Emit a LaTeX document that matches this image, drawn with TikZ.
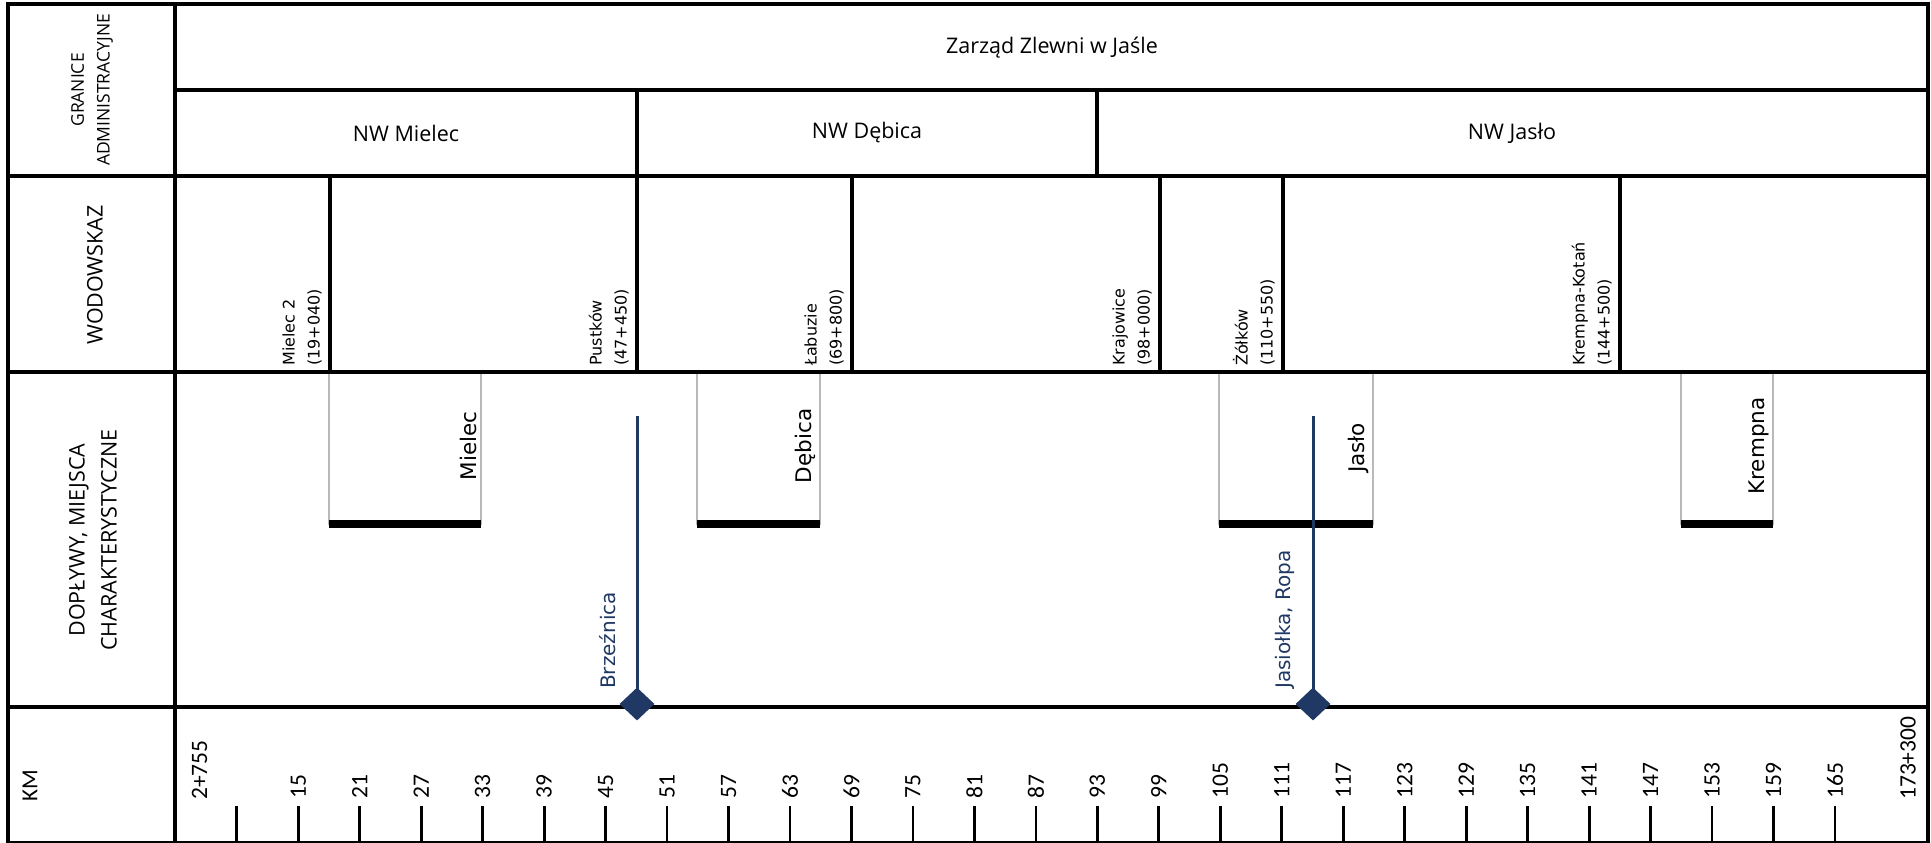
\documentclass[tikz,border=0pt]{standalone}
\usepackage{fontspec}
\setmainfont{DejaVu Sans}
\newfontfamily\hdrfont{Open Sans}
\newfontfamily\numfont{Carlito}
\usetikzlibrary{shapes.geometric}
\definecolor{navy}{RGB}{31,56,100}
\definecolor{boxgray}{RGB}{185,185,185}
\begin{document}
\begin{tikzpicture}[x=1pt,y=-1pt,
  rule/.style={line width=3.4pt,black},
  hdr/.style={font=\hdrfont\fontsize{21.5}{26}\selectfont,inner sep=0pt},
  sidelbl/.style={rotate=90,align=center,inner sep=0pt},
  gauge/.style={font=\fontsize{16}{25}\selectfont,align=left,rotate=90,anchor=south west,inner sep=0pt},
  townframe/.style={draw=boxgray,line width=1.6pt},
  townbar/.style={fill=black},
  townlbl/.style={font=\fontsize{21.5}{25}\selectfont,rotate=90,anchor=south,inner sep=0pt},
  trib/.style={draw=navy,line width=3pt},
  tribmark/.style={diamond,fill=navy,minimum width=35pt,minimum height=33pt,inner sep=0pt},
  triblbl/.style={font=\fontsize{20}{24}\selectfont,text=navy,rotate=90,anchor=base west,inner sep=0pt},
  tickmark/.style={line width=2.8pt,black},
  kmlbl/.style={font=\numfont\fontsize{23.5}{26}\selectfont,rotate=90,anchor=west,inner sep=0pt}
]
\useasboundingbox (0,0) rectangle (1931,843);

% town boxes
\draw[townframe] (329,373) rectangle (481,524);
\fill[townbar] (329,520) rectangle (481,528);
\draw[townframe] (697,373) rectangle (820,524);
\fill[townbar] (697,520) rectangle (820,528);
\draw[townframe] (1219,373) rectangle (1373,524);
\fill[townbar] (1219,520) rectangle (1373,528);
\draw[townframe] (1681,373) rectangle (1773,524);
\fill[townbar] (1681,520) rectangle (1773,528);

% frame and grid
\draw[rule] (8,4) rectangle (1928,843);
\draw[rule] (175,4) -- (175,843);
\draw[rule] (175,90) -- (1928,90);
\draw[rule] (8,176) -- (1928,176);
\draw[rule] (8,372) -- (1928,372);
\draw[rule] (8,707) -- (1928,707);
\draw[rule] (637,90) -- (637,176);
\draw[rule] (1097,90) -- (1097,176);
\foreach \v in {330,637,852,1160,1283,1620} {\draw[rule] (\v,176) -- (\v,372);}

% headers
\node[hdr] (zarzad) at (1052,48) {Zarząd Zlewni w Jaśle};
\node[hdr] (nwm) at (406,133) {NW Mielec};
\node[hdr] (nwd) at (867,133) {NW Dębica};
\node[hdr] (nwj) at (1512,133) {NW Jasło};

% side labels
\node[sidelbl,font=\hdrfont\fontsize{17.5}{25.7}\selectfont] (granice) at (92,90) {GRANICE\\ADMINISTRACYJNE};
\node[sidelbl,font=\hdrfont\fontsize{21.5}{26}\selectfont] (wodo) at (95,275) {WODOWSKAZ};
\node[sidelbl,font=\hdrfont\fontsize{21.5}{32}\selectfont] (dop) at (93,540) {DOPŁYWY, MIEJSCA\\CHARAKTERYSTYCZNE};
\node[sidelbl,font=\numfont\fontsize{23}{26}\selectfont] (km) at (30,786) {KM};

% gauges
\node[gauge] (g1) at (322,366) {Mielec 2\\(19+040)};
\node[gauge] (g2) at (629,366) {Pustków\\(47+450)};
\node[gauge] (g3) at (844,366) {Łabuzie\\(69+800)};
\node[gauge] (g4) at (1152,366) {Krajowice\\(98+000)};
\node[gauge] (g5) at (1275,366) {Żółków\\(110+550)};
\node[gauge] (g6) at (1612,366) {Krempna-Kotań\\(144+500)};

% town labels
\node[townlbl] (tmielec) at (477,446) {Mielec};
\node[townlbl] (tdebica) at (816,446) {Dębica};
\node[townlbl] (tjaslo) at (1369,448) {Jasło};
\node[townlbl] (tkrempna) at (1769,446) {Krempna};

% tributaries
\coordinate (brztop) at (637,416);
\coordinate (brzjoin) at (637,704);
\draw[trib] (brztop) -- (brzjoin);
\node[tribmark] (brzmark) at (brzjoin) {};
\node[triblbl] (brzlbl) at (615,689) {Brzeźnica};
\coordinate (jastop) at (1313,416);
\coordinate (jasjoin) at (1313,704);
\draw[trib] (jastop) -- (jasjoin);
\node[tribmark] (jasmark) at (jasjoin) {};
\node[triblbl] (jaslbl) at (1290,689) {Jasiołka, Ropa};

% km axis
\foreach \k in {0,...,26} {
  \coordinate (t\k) at ({236.8+61.47*\k},806);
  \draw[tickmark] (t\k) -- ++(0,40);
}
\foreach \k in {1,...,26} {
  \pgfmathtruncatemacro\kmv{9+6*\k}
  \node[kmlbl] (l\k) at ({236.8+61.47*\k},799) {\kmv};
}
\node[kmlbl] (lstart) at (199.5,800) {2+755};
\node[kmlbl] (lend) at (1908,800) {173+300};
\end{tikzpicture}
\end{document}
